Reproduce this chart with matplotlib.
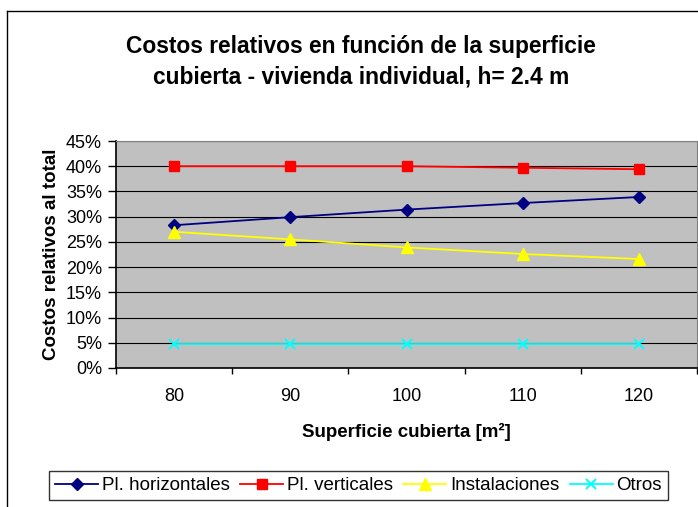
import matplotlib
matplotlib.use("Agg")
import matplotlib.pyplot as plt
from matplotlib.lines import Line2D
from matplotlib.ticker import FixedLocator, PercentFormatter

plt.rcParams['font.family'] = ['Liberation Sans', 'DejaVu Sans']

superficie = ['80', '90', '100', '110', '120']
pl_horizontales = [28.3, 29.9, 31.4, 32.7, 33.9]
pl_verticales = [40.0, 40.0, 40.0, 39.7, 39.4]
instalaciones = [27.0, 25.5, 23.9, 22.6, 21.6]
otros = [4.7, 4.7, 4.7, 4.7, 4.7]

fig = plt.figure(figsize=(6.98, 5.07), dpi=100)
W, H = 698, 507

# outer chart frame (cut off at right and bottom)
fig.add_artist(Line2D([7 / W, 7 / W], [0, 1 - 11 / H], color='black', lw=1.0))
fig.add_artist(Line2D([7 / W, 1], [1 - 11 / H, 1 - 11 / H], color='black', lw=1.0))

ax = fig.add_axes([116 / W, 1 - 368 / H, (697 - 116) / W, (368 - 141) / H])
ax.set_facecolor('#C0C0C0')

x = list(range(len(superficie)))
ax.plot(x, pl_horizontales, color='#000080', marker='D', ms=6.5, lw=1.3, label='Pl. horizontales')
ax.plot(x, pl_verticales, color='#FF0000', marker='s', ms=6.5, lw=1.3, label='Pl. verticales')
ax.plot(x, instalaciones, color='#FFFF00', marker='^', ms=8.5, lw=1.3, label='Instalaciones')
ax.plot(x, otros, color='#00FFFF', marker='x', ms=7.5, mew=1.4, lw=1.3, label='Otros')

ax.set_xlim(-0.5, len(superficie) - 0.5)
ax.set_ylim(0, 45)
ax.set_yticks(range(0, 50, 5))
ax.yaxis.set_major_formatter(PercentFormatter(decimals=0))
ax.yaxis.grid(True, color='black', lw=0.8)
ax.set_axisbelow(True)

ax.xaxis.set_major_locator(FixedLocator([i - 0.5 for i in range(len(superficie) + 1)]))
ax.xaxis.set_minor_locator(FixedLocator(x))
ax.set_xticklabels([])
ax.set_xticklabels(superficie, minor=True)
ax.tick_params(axis='x', which='minor', length=0, pad=14.5, labelsize=13)
ax.tick_params(axis='x', which='major', length=4, direction='out', width=1)
ax.tick_params(axis='y', length=6, direction='out', width=1, labelsize=13, pad=4)

for side in ['top', 'right']:
    ax.spines[side].set_color('#808080')
for side in ['left', 'bottom']:
    ax.spines[side].set_color('black')
    ax.spines[side].set_linewidth(1.2)

fig.text(406.5 / W, 1 - 432 / H, 'Superficie cubierta [m²]', ha='center', va='center',
         fontsize=13.5, fontweight='bold')
fig.text(51.7 / W, 1 - 254 / H, 'Costos relativos al total', ha='center', va='center',
         rotation=90, fontsize=13.5, fontweight='bold')

fig.text(361 / W, 1 - 61.5 / H, 'Costos relativos en función de la superficie\ncubierta - vivienda individual, h= 2.4 m',
         ha='center', va='center', fontsize=16.4, fontweight='bold', linespacing=1.4)

leg = fig.legend(loc='center', bbox_to_anchor=(358.5 / W, 1 - 485.5 / H), ncol=4, fontsize=13.5,
                 frameon=True, fancybox=False, edgecolor='black', handlelength=2.3,
                 columnspacing=0.55, handletextpad=0.2, borderpad=0.3, borderaxespad=0)
leg.get_frame().set_linewidth(1.0)

fig.savefig('out.png', dpi=100)
